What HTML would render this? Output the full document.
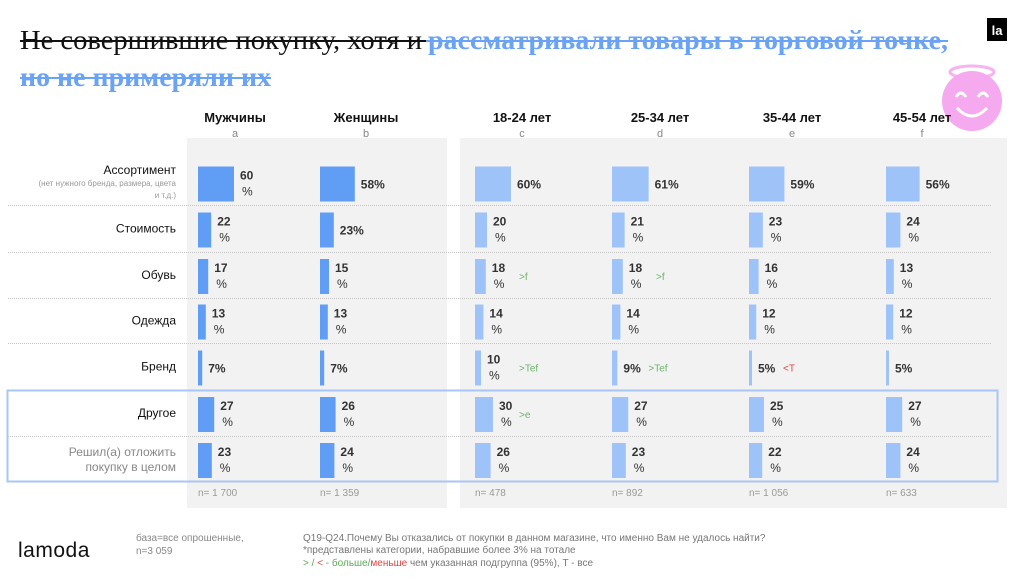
<!DOCTYPE html>
<html><head><meta charset="utf-8">
<style>
body{margin:0;width:1024px;height:574px;background:#fff;overflow:hidden;font-family:"Liberation Sans","DejaVu Sans",sans-serif}
svg text{font-family:"Liberation Sans","DejaVu Sans",sans-serif}
</style></head>
<body>
<svg id="chart" width="1024" height="574" viewBox="0 0 1024 574" xmlns="http://www.w3.org/2000/svg">
  <rect x="187" y="138" width="260" height="370" fill="#f2f2f2"/>
  <rect x="460" y="138" width="547" height="370" fill="#f2f2f2"/>
  <g>
    <text x="20" y="49" fill="#111" font-size="27" textLength="402" lengthAdjust="spacingAndGlyphs" style="font-family:'Liberation Serif','DejaVu Serif',serif">Не совершившие покупку, хотя и</text>
    <text x="428" y="49" fill="#6aa3f5" font-size="27" font-weight="bold" textLength="520" lengthAdjust="spacingAndGlyphs" style="font-family:'Liberation Serif','DejaVu Serif',serif">рассматривали товары в торговой точке,</text>
    <text x="20" y="86" fill="#6aa3f5" font-size="27" font-weight="bold" textLength="251" lengthAdjust="spacingAndGlyphs" style="font-family:'Liberation Serif','DejaVu Serif',serif">но не примеряли их</text>
    <line x1="20" y1="41" x2="426" y2="41" stroke="#111" stroke-width="2"/>
    <line x1="426" y1="41" x2="948" y2="41" stroke="#6aa3f5" stroke-width="2"/>
    <line x1="20" y1="78" x2="271" y2="78" stroke="#6aa3f5" stroke-width="2"/>
  </g>
  <g>
    <rect x="987" y="18" width="20" height="23" fill="#000"/>
    <text x="997" y="35" fill="#fff" font-size="13" text-anchor="middle" font-weight="bold">la</text>
  </g>
  <g>
    <ellipse cx="972" cy="72" rx="22" ry="6" fill="none" stroke="#f6b3ef" stroke-width="3"/>
    <circle cx="972" cy="101" r="30" fill="#f5a9ee"/>
    <path d="M956 97 q5 -8 10 0 M978 97 q5 -8 10 0" stroke="#fff" stroke-width="3" fill="none"/>
    <path d="M957 108 q15 16 30 0" stroke="#fff" stroke-width="3" fill="none"/>
  </g>
  <g id="grid"></g>
  <rect x="7.5" y="390.5" width="990" height="91" fill="none" stroke="#a8c6f5" stroke-width="2"/>
  <g id="bars"></g>
  <g>
    <text x="18" y="557" font-size="21" fill="#111" style="letter-spacing:0.5px">lamoda</text>
    <text x="136" y="541" font-size="10" fill="#888">база=все опрошенные,</text>
    <text x="136" y="554" font-size="10" fill="#888">n=3 059</text>
    <text x="303" y="541" font-size="10" fill="#777">Q19-Q24.Почему Вы отказались от покупки в данном магазине, что именно Вам не удалось найти?</text>
    <text x="303" y="553" font-size="10" fill="#777">*представлены категории, набравшие более 3% на тотале</text>
    <text x="303" y="566" font-size="10" fill="#777"><tspan fill="#5aaa5a">&gt; / </tspan><tspan fill="#e04646">&lt;</tspan><tspan fill="#5aaa5a"> - больше/</tspan><tspan fill="#e04646">меньше</tspan> чем указанная подгруппа (95%), T - все</text>
  </g>
</svg>
<script>
const groups = ["Мужчины","Женщины","18-24 лет","25-34 лет","35-44 лет","45-54 лет"];
const groupLetters = ["a","b","c","d","e","f"];
const sampleSizes = ["n= 1 700","n= 1 359","n= 478","n= 892","n= 1 056","n= 633"];
const categories = ["Ассортимент","Стоимость","Обувь","Одежда","Бренд","Другое","Решил(а) отложить покупку в целом"];
const valuesA = [60,22,17,13,7,27,23];
const valuesB = [58,23,15,13,7,26,24];
const valuesC = [60,20,18,14,10,30,26];
const valuesD = [61,21,18,14,9,27,23];
const valuesE = [59,23,16,12,5,25,22];
const valuesF = [56,24,13,12,5,27,24];
const series = [valuesA,valuesB,valuesC,valuesD,valuesE,valuesF];
const sigC = ["","","&gt;f","","&gt;Tef","&gt;e",""];
const sigD = ["","","&gt;f","","&gt;Tef","",""];
const sigE = ["","","","","&lt;T","",""];
const sigs = [[],[],sigC,sigD,sigE,[]];
// whether the value label wraps onto two lines
const wrapA = [1,1,1,1,0,1,1], wrapB=[0,0,1,1,0,1,1], wrapC=[0,1,1,1,1,1,1], wrapD=[0,1,1,1,0,1,1], wrapE=[0,1,1,1,0,1,1], wrapF=[0,1,1,1,0,1,1];
const wraps=[wrapA,wrapB,wrapC,wrapD,wrapE,wrapF];

const NS="http://www.w3.org/2000/svg";
const colX=[198,320,475,612,749,886];
const headX=[235,366,522,660,792,922];
const rowTop=[160,205,252,298,343,390,436];
const rowBot=[205,252,298,343,390,436,482];
const xScale=v=>Math.max(3,v*0.6);
function mk(tag,attrs,parent){const e=document.createElementNS(NS,tag);for(const k in attrs)e.setAttribute(k,attrs[k]);parent.appendChild(e);return e;}
const grid=document.getElementById('grid'), bars=document.getElementById('bars');
groups.forEach((g,i)=>{
  const t=mk('text',{x:headX[i],y:122,'font-size':13,'font-weight':'bold','text-anchor':'middle',fill:'#111'},grid);
  t.textContent=g;
  
  
  const l=mk('text',{x:headX[i],y:137,'font-size':11,'text-anchor':'middle',fill:'#888'},grid);
  l.textContent=groupLetters[i];
  
  
  const n=mk('text',{x:colX[i],y:496,'font-size':10,fill:'#999'},grid);
  n.textContent=sampleSizes[i];
  
  
});
[205,252,298,343,436].forEach(y=>{
  const ln=mk('line',{x1:8,x2:992,y1:y+0.5,y2:y+0.5,stroke:'#c4c4c4','stroke-dasharray':'1 1'},grid);
  
  
});
categories.forEach((c,r)=>{
  const cy=(rowTop[r]+rowBot[r])/2;
  let t;
  if(r===0){
    t=mk('text',{x:176,y:174,'font-size':12,'text-anchor':'end',fill:'#111'},grid);t.textContent=c;
    const s1=mk('text',{x:176,y:186,'font-size':8,'text-anchor':'end',fill:'#999'},grid);s1.textContent='(нет нужного бренда, размера, цвета';
    
    const s2=mk('text',{x:176,y:198,'font-size':8,'text-anchor':'end',fill:'#999'},grid);s2.textContent='и т.д.)';
    
  } else if(r===6){
    t=mk('text',{x:176,y:cy-3,'font-size':12,'text-anchor':'end',fill:'#888'},grid);t.textContent='Решил(а) отложить';
    const t2=mk('text',{x:176,y:cy+12,'font-size':12,'text-anchor':'end',fill:'#888'},grid);t2.textContent='покупку в целом';
    
  } else {
    t=mk('text',{x:176,y:cy+4,'font-size':12,'text-anchor':'end',fill:'#111'},grid);t.textContent=c;
  }
  
  
});
series.forEach((vals,i)=>{
  vals.forEach((v,r)=>{
    const cy=(rowTop[r]+rowBot[r])/2+1;
    const w=xScale(v);
    const b=mk('rect',{x:colX[i],y:cy-17,width:w,height:35,fill:i<2?'#609ef5':'#9dc3f9'},bars);
    
    
    const lx=colX[i]+w+6;
    const t=mk('text',{x:lx,y:wraps[i][r]?cy-4:cy+5,'font-size':12,'font-weight':'bold',fill:'#333'},bars);
    if(wraps[i][r]){t.textContent=v;const t2=mk('text',{x:lx+2,y:cy+12,'font-size':12,fill:'#333'},bars);t2.textContent='%';
      }
    else t.textContent=v+'%';
    
    
    const s=sigs[i][r];
    if(s){
      const st=mk('text',{x:wraps[i][r]?colX[i]+44:lx+25,y:cy+4,'font-size':10,fill:s.indexOf('&lt;')===0?'#e04646':'#6db36d'},bars);
      st.innerHTML=s;
      
      
    }
  });
});
</script>
</body></html>
